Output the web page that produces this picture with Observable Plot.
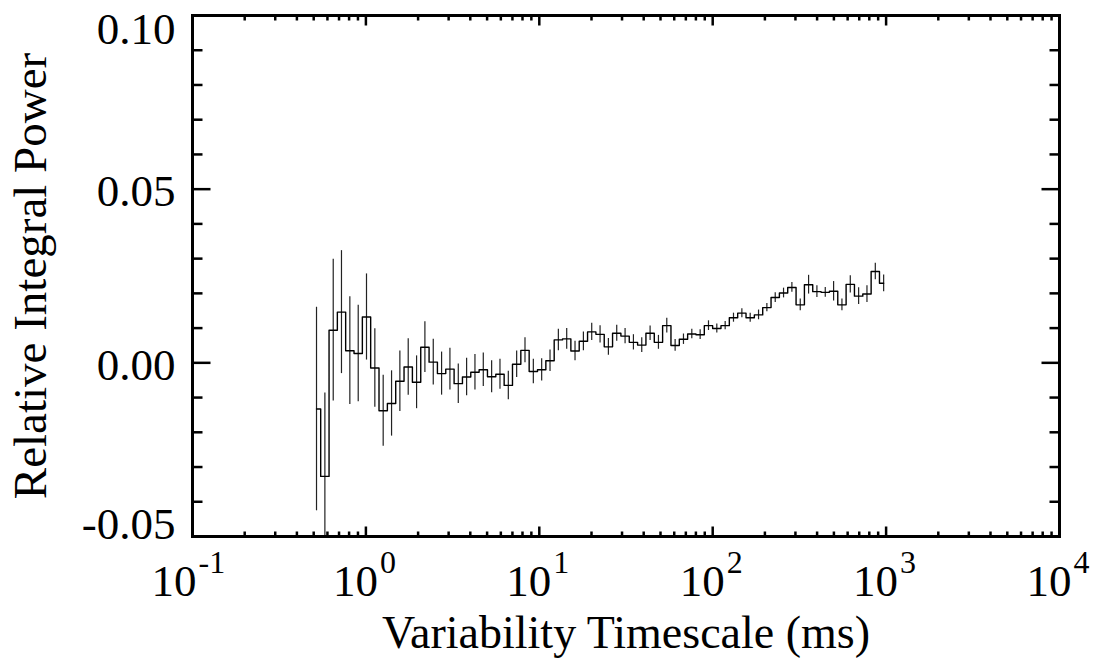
<!DOCTYPE html>
<html><head><meta charset="utf-8">
<script src="https://cdn.jsdelivr.net/npm/d3@7"></script>
<script src="https://cdn.jsdelivr.net/npm/@observablehq/plot@0.6"></script>
<style>
body{margin:0;background:#fff;}
svg text{font-family:"Liberation Serif","Times New Roman","DejaVu Serif",serif !important;}
</style>
</head><body><div id="chart"></div>
<script>
// Bin centres (ms)
const timescale = [0.519, 0.580, 0.648, 0.723, 0.808, 0.903, 1.008, 1.126, 1.258, 1.406,
  1.570, 1.754, 1.960, 2.189, 2.446, 2.732, 3.052, 3.410, 3.809, 4.255,
  4.753, 5.310, 5.932, 6.627, 7.403, 8.270, 9.238, 10.32, 11.53, 12.88,
  14.39, 16.07, 17.96, 20.06, 22.41, 25.03, 27.96, 31.24, 34.90, 38.98,
  43.55, 48.65, 54.35, 60.72, 67.83, 75.77, 84.65, 94.56, 105.6, 118.0,
  131.8, 147.3, 164.5, 183.8, 205.3, 229.4, 256.2, 286.2, 319.8, 357.2,
  399.0, 445.8, 498.0, 556.3, 621.5, 694.3, 775.6, 866.4, 967.9];
// Relative integral power
const power = [-0.0133, -0.0327, 0.0094, 0.0146, 0.0035, 0.0027, 0.0132, -0.0015, -0.0138, -0.0117,
  -0.0053, -0.0012, -0.0056, 0.0045, 0.0002, -0.0031, -0.0018, -0.0060, -0.0041, -0.0027,
  -0.0020, -0.0040, -0.0033, -0.0065, -0.0004, 0.0036, -0.0025, -0.0020, 0.0006, 0.0066,
  0.0069, 0.0034, 0.0062, 0.0089, 0.0082, 0.0046, 0.0085, 0.0077, 0.0059, 0.0051,
  0.0085, 0.0059, 0.0107, 0.0050, 0.0068, 0.0083, 0.0081, 0.0107, 0.0099, 0.0107,
  0.0130, 0.0143, 0.0130, 0.0138, 0.0159, 0.0188, 0.0201, 0.0217, 0.0167, 0.0225,
  0.0205, 0.0203, 0.0206, 0.0167, 0.0226, 0.0192, 0.0198, 0.0263, 0.0229];
// 1-sigma errors
const powerErr = [0.0293, 0.0240, 0.0204, 0.0177, 0.0155, 0.0139, 0.0124, 0.0113, 0.0102, 0.0094,
  0.0087, 0.0081, 0.0076, 0.0073, 0.0066, 0.0062, 0.0060, 0.0057, 0.0054, 0.0051,
  0.0048, 0.0046, 0.0043, 0.0041, 0.0038, 0.0036, 0.0035, 0.0032, 0.0031, 0.0031,
  0.0030, 0.0028, 0.0027, 0.0025, 0.0025, 0.0024, 0.0023, 0.0022, 0.0022, 0.0021,
  0.0021, 0.0020, 0.0021, 0.0017, 0.0015, 0.0014, 0.0014, 0.0014, 0.0013, 0.0012,
  0.0013, 0.0013, 0.0013, 0.0014, 0.0012, 0.0014, 0.0014, 0.0014, 0.0017, 0.0027,
  0.0017, 0.0014, 0.0028, 0.0017, 0.0025, 0.0024, 0.0024, 0.0024, 0.0024];

const xMajor = [0.1, 1, 10, 100, 1000, 10000];
const xExponents = ["-1", "0", "1", "2", "3", "4"];
const yMajor = [-0.05, 0, 0.05, 0.10];
const yTickLabels = ["-0.05", "0.00", "0.05", "0.10"];
const xMinor = [0.1, 1, 10, 100, 1000].flatMap(p => [2,3,4,5,6,7,8,9].map(m => m * p));
const yMinor = [-0.04, -0.03, -0.02, -0.01, 0.01, 0.02, 0.03, 0.04, 0.06, 0.07, 0.08, 0.09];
const xTitle = "Variability Timescale (ms)";
const yTitle = "Relative Integral Power";

const data = timescale.map((x, i) => ({x, y: power[i], e: powerErr[i]}));

const font = "Liberation Serif, Times New Roman, DejaVu Serif, serif";
const tickShape = {draw(ctx, l) { ctx.moveTo(0, 0); ctx.lineTo(0, -l); }};
function ticks(values, side, rotate, length) {
  const ch = (side === "top" || side === "bottom") ? {x: d => d} : {y: d => d};
  return Plot.vector(values, {...ch, frameAnchor: side, rotate, length, anchor: "start",
    shape: tickShape, stroke: "black", strokeWidth: 2.5, strokeLinecap: "butt"});
}

const xLabelMarks = xMajor.flatMap((v, i) => {
  const ex = xExponents[i];
  const dx = ex.length > 1 ? 4 : 12;
  return [
    Plot.text([v], {x: d => d, text: () => "10", frameAnchor: "bottom", dy: 59, dx,
      lineAnchor: "bottom", textAnchor: "end", fontSize: 45, fontFamily: font, fill: "black"}),
    Plot.text([v], {x: d => d, text: () => ex, frameAnchor: "bottom", dy: 36, dx: dx + 2,
      lineAnchor: "bottom", textAnchor: "start", fontSize: 32, fontFamily: font, fill: "black"})
  ];
});
const yLabelMarks = yMajor.map((v, i) =>
  Plot.text([v], {y: d => d, text: () => yTickLabels[i], frameAnchor: "left", dx: -17,
    dy: i === 0 ? 2 : (i === yMajor.length - 1 ? 28 : 17),
    lineAnchor: "bottom", textAnchor: "end", fontSize: 45, fontFamily: font, fill: "black"})
);

const chart = Plot.plot({
  width: 1100, height: 660,
  marginLeft: 192, marginRight: 41, marginTop: 15, marginBottom: 124,
  style: {fontFamily: font, background: "white", color: "black"},
  x: {type: "log", domain: [0.1, 10000], axis: null},
  y: {domain: [-0.05, 0.10], axis: null},
  marks: [
    Plot.ruleX(data, {x: "x", y1: d => d.y - d.e, y2: d => d.y + d.e, stroke: "#222", strokeWidth: 1.2, clip: true}),
    Plot.line(data, {x: "x", y: "y", curve: "step", stroke: "black", strokeWidth: 1.4, clip: true}),
    ticks(xMajor, "bottom", 0, 10), ticks(xMinor, "bottom", 0, 5),
    ticks(xMajor, "top", 180, 10), ticks(xMinor, "top", 180, 5),
    ticks(yMajor, "left", 90, 18), ticks(yMinor, "left", 90, 10),
    ticks(yMajor, "right", -90, 18), ticks(yMinor, "right", -90, 10),
    Plot.frame({stroke: "black", strokeWidth: 3}),
    ...xLabelMarks,
    ...yLabelMarks,
    Plot.text([xTitle], {text: d => d, frameAnchor: "bottom", dy: 111, lineAnchor: "bottom",
      textAnchor: "middle", fontSize: 46, fontFamily: font, fill: "black"}),
    Plot.text([yTitle], {text: d => d, frameAnchor: "left", dx: -147, rotate: -90, lineAnchor: "bottom",
      textAnchor: "middle", fontSize: 47, fontFamily: font, fill: "black"})
  ]
});
document.getElementById("chart").appendChild(chart);
</script>
</body></html>
